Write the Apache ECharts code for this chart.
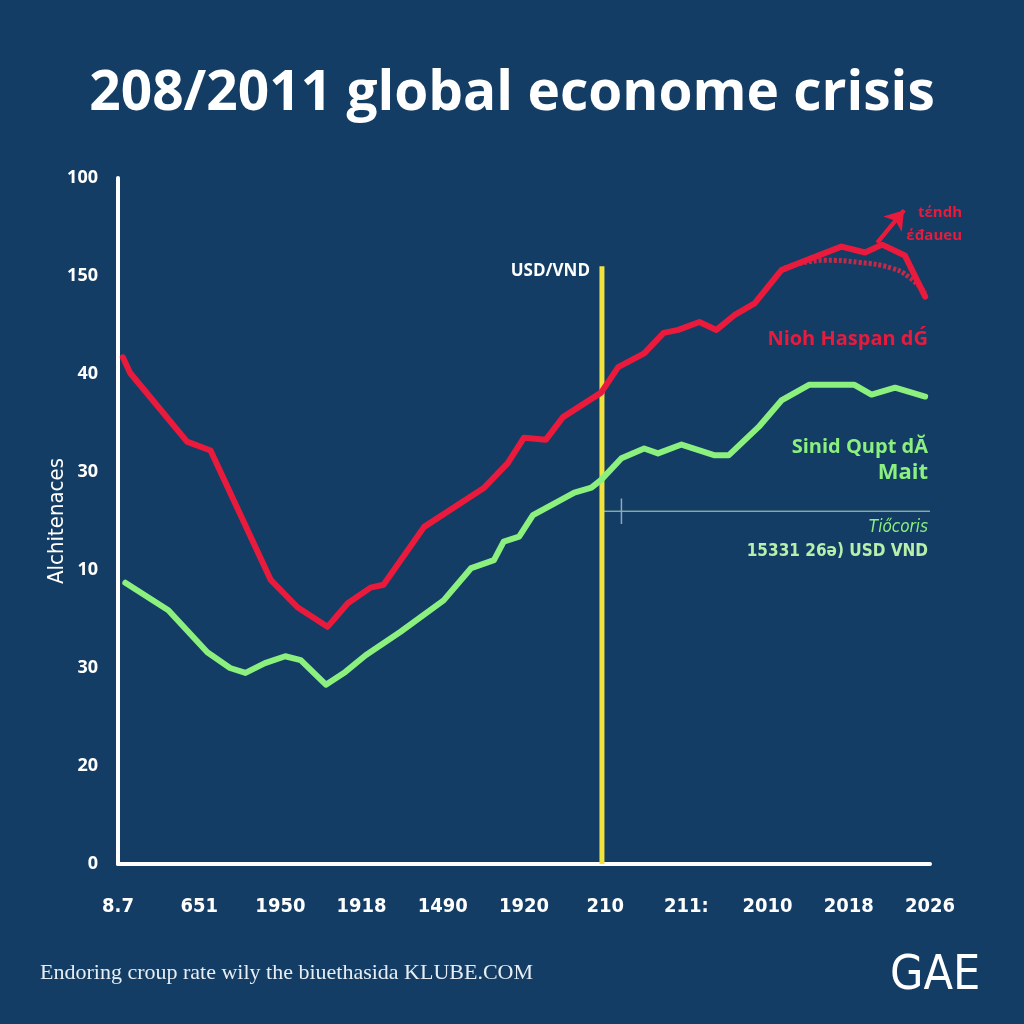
<!DOCTYPE html>
<html>
<head>
<meta charset="utf-8">
<script src="https://cdn.jsdelivr.net/npm/echarts@6/dist/echarts.min.js"></script>
<style>
html,body{margin:0;padding:0;background:#133d64;}
#chart{width:1024px;height:1024px;}
</style>
</head>
<body>
<div id="chart"></div>
<script>
// ---- data ----
const xTickLabels = ['8.7','651','1950','1918','1490','1920','210','211:','2010','2018','2026'];
const yTickLabels = ['0','20','30','10','30','40','150','100'];

const redSeries = [
  [0.06,5.17],[0.15,5.01],[0.40,4.76],[0.85,4.31],[1.14,4.22],[1.88,2.90],[2.21,2.62],
  [2.58,2.42],[2.83,2.66],[3.11,2.82],[3.27,2.85],[3.77,3.44],[4.51,3.84],[4.80,4.09],
  [5.00,4.35],[5.27,4.33],[5.48,4.56],[5.95,4.81],[6.16,5.07],[6.48,5.21],[6.72,5.42],
  [6.90,5.45],[7.16,5.53],[7.37,5.45],[7.59,5.60],[7.84,5.72],[8.17,6.06],[8.38,6.13],
  [8.63,6.21],[8.91,6.30],[9.20,6.24],[9.41,6.32],[9.69,6.21],[9.94,5.79]
];
const redDashed = [
  [8.21,6.08],[8.70,6.16],[9.12,6.14],[9.53,6.08],[9.74,5.99],[9.94,5.83]
];
const redArrow = [[9.35,6.34],[9.68,6.67]];
const greenSeries = [
  [0.09,2.87],[0.62,2.59],[1.10,2.16],[1.38,2.00],[1.57,1.95],[1.81,2.05],[2.06,2.12],
  [2.25,2.08],[2.56,1.83],[2.80,1.96],[3.05,2.13],[3.48,2.37],[4.01,2.69],[4.35,3.02],
  [4.63,3.10],[4.75,3.29],[4.94,3.34],[5.11,3.56],[5.62,3.79],[5.83,3.84],[5.95,3.92],
  [6.20,4.14],[6.48,4.24],[6.65,4.19],[6.94,4.28],[7.35,4.17],[7.52,4.17],[7.89,4.46],
  [8.17,4.73],[8.51,4.89],[9.07,4.89],[9.28,4.79],[9.57,4.86],[9.94,4.77]
];
const crisisMarkerX = 5.96;
const crisisMarkerTop = 6.10;
const refLevel = 3.60;

// ---- chart ----
const chart = echarts.init(document.getElementById('chart'));
const RED = '#ea1a3c', GREEN = '#8cf07f', YEL = '#f2e23c';
const BOLD = '"Open Sans", "Noto Sans", sans-serif';
const NARROW = '"Liberation Sans Narrow", "DejaVu Sans Condensed", sans-serif';

chart.setOption({
  backgroundColor: '#133d64',
  animation: false,
  title: {
    text: '208/2011 global econome crisis',
    left: 'center', top: 62,
    textStyle: { color: '#ffffff', fontSize: 55, fontWeight: 'bold', fontFamily: BOLD }
  },
  grid: { left: 118, right: 94, top: 178, bottom: 160 },
  xAxis: {
    type: 'value', min: 0, max: 10, interval: 1,
    axisLine: { show: true, lineStyle: { color: '#ffffff', width: 4 } },
    axisTick: { show: false },
    splitLine: { show: false },
    axisLabel: {
      margin: 33, color: '#ffffff', fontSize: 20, fontWeight: 'bold',
      fontFamily: NARROW,
      formatter: v => xTickLabels[Math.round(v)] ?? ''
    }
  },
  yAxis: {
    type: 'value', min: 0, max: 7, interval: 1,
    name: 'Alchitenaces', nameLocation: 'middle', nameGap: 50, nameMoveOverlap: false,
    nameTextStyle: { color: '#ffffff', fontSize: 22, fontFamily: NARROW },
    axisLine: { show: true, lineStyle: { color: '#ffffff', width: 4 } },
    axisTick: { show: false },
    splitLine: { show: false },
    axisLabel: {
      margin: 20, color: '#ffffff', fontSize: 18, fontWeight: 'bold', fontFamily: BOLD,
      formatter: v => yTickLabels[Math.round(v)] ?? ''
    }
  },
  series: [
    {
      type: 'line', data: [[crisisMarkerX, 0], [crisisMarkerX, crisisMarkerTop]],
      symbol: 'none', lineStyle: { color: YEL, width: 5 }, z: 3
    },
    {
      type: 'line', data: [[crisisMarkerX, refLevel], [10, refLevel]],
      symbol: 'none', lineStyle: { color: '#b8dcc0', width: 1 }, z: 2
    },
    {
      type: 'line', data: [[6.20, 3.47], [6.20, 3.73]],
      symbol: 'none', lineStyle: { color: '#8fa8c0', width: 1.5 }, z: 2
    },
    {
      type: 'line', data: greenSeries, symbol: 'none',
      lineStyle: { color: GREEN, width: 6, join: 'round', cap: 'round' }, z: 4
    },
    {
      type: 'line', data: redDashed, symbol: 'none', smooth: true,
      lineStyle: { color: '#c42a48', width: 5, type: [3, 2] }, z: 4
    },
    {
      type: 'line', data: redSeries, symbol: 'none',
      lineStyle: { color: RED, width: 6, join: 'round', cap: 'round' }, z: 5
    },
    {
      type: 'line', data: redArrow, symbol: 'none',
      lineStyle: { color: RED, width: 4 }, z: 5,
      markLine: {
        silent: true, symbol: ['none', 'arrow'], symbolSize: 18, label: { show: false },
        lineStyle: { color: RED, width: 4, type: 'solid' },
        data: [[{ coord: redArrow[0] }, { coord: redArrow[1] }]]
      }
    }
  ],
  graphic: [
    { type: 'text', right: 434, top: 263, style: { text: 'USD/VND', fill: '#ffffff', font: 'bold 17px ' + BOLD } },
    { type: 'text', right: 62, top: 205, style: { text: 'tέndh', fill: RED, font: 'bold 15px ' + BOLD } },
    { type: 'text', right: 62, top: 228, style: { text: 'έđaueu', fill: RED, font: 'bold 15px ' + BOLD } },
    { type: 'text', right: 96, top: 329, style: { text: 'Nioh Haspan dǴ', fill: RED, font: 'bold 20px ' + BOLD } },
    { type: 'text', right: 96, top: 437, style: { text: 'Sinid Qupt dĂ', fill: GREEN, font: 'bold 20px ' + BOLD } },
    { type: 'text', right: 96, top: 462, style: { text: 'Mait', fill: GREEN, font: 'bold 22px ' + BOLD } },
    { type: 'text', right: 96, top: 519, style: { text: 'Tiőcoris', fill: GREEN, font: 'italic 17px ' + NARROW } },
    { type: 'text', right: 96, top: 543, style: { text: '15331 26ə) USD VND', fill: '#b6f0aa', font: 'bold 17px ' + NARROW } },
    { type: 'text', left: 40, top: 962, style: { text: 'Endoring croup rate wily the biuethasida KLUBE.COM', fill: '#e8eef5', font: '22px "Liberation Serif", serif' } },
    { type: 'text', left: 890, top: 953, style: { text: 'GAE', fill: '#ffffff', font: '48px ' + NARROW } }
  ]
});
</script>
</body>
</html>
